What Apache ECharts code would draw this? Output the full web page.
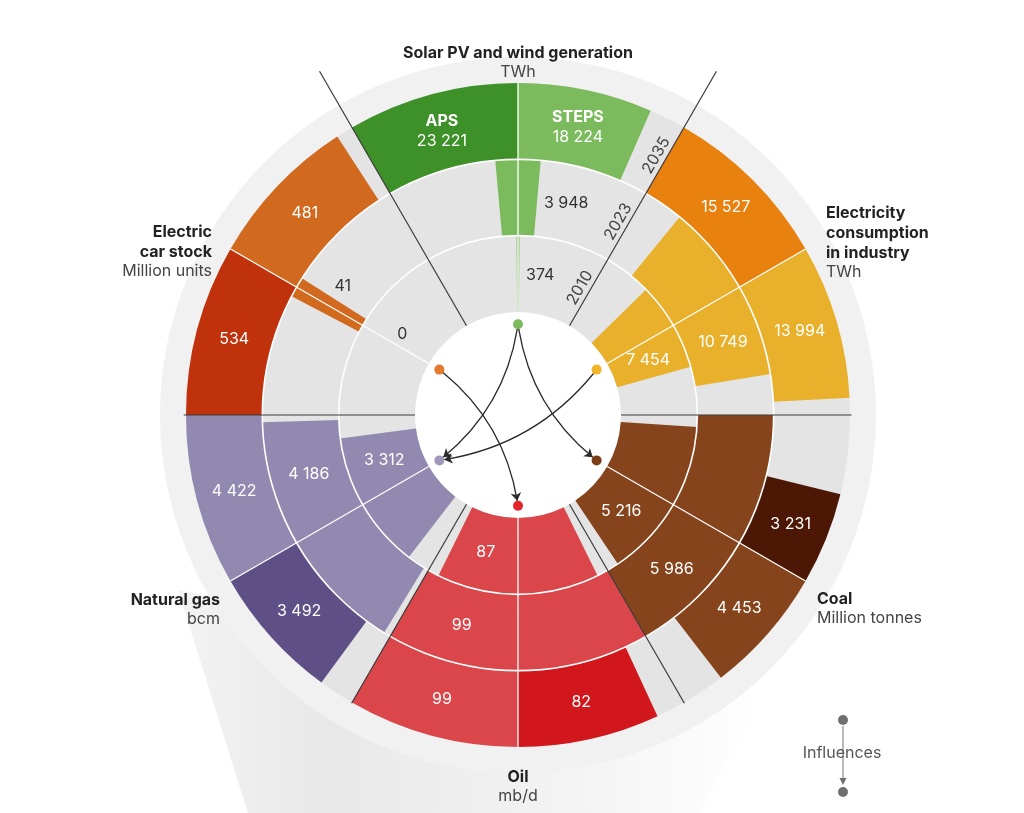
<!DOCTYPE html>
<html>
<head>
<meta charset="utf-8">
<title>Energy indicators 2010-2035</title>
<script src="https://cdn.jsdelivr.net/npm/echarts@6.0.0/dist/echarts.min.js"></script>
<style>
html,body{margin:0;padding:0;background:#ffffff;}
#chart{width:1024px;height:813px;}
</style>
</head>
<body>
<div id="chart"></div>
<script>
// ---------------- data ----------------
const categories = ['Solar PV and wind generation', 'Electricity consumption in industry', 'Coal', 'Oil', 'Natural gas', 'Electric car stock'];
const titleLines = [['Solar PV and wind generation'], ['Electricity', 'consumption', 'in industry'], ['Coal'], ['Oil'], ['Natural gas'], ['Electric', 'car stock']];
const units = ['TWh', 'TWh', 'Million tonnes', 'mb/d', 'bcm', 'Million units'];
const years = ['2010', '2023', '2035'];
const scenarios = ['STEPS', 'APS'];
const values2010 = [374, 7454, 5216, 87, 3312, 0];
const values2023 = [3948, 10749, 5986, 99, 4186, 41];
const valuesSTEPS = [18224, 13994, 4453, 99, 4422, 481];
const valuesAPS = [23221, 15527, 3231, 82, 3492, 534];
const influenceFrom = [0, 0, 5, 1];
const influenceTo = [4, 2, 3, 4];
const legendText = 'Influences';

// ---------------- styles / layout ----------------
const CX = 518, CY = 415, R_IN = 103, R_OUT = 332;
const FONT = 'Inter, "Noto Sans", "DejaVu Sans", sans-serif';
const FS = '16px ';
const mainColors = ['#7cbb5d', '#e8b02b', '#86441d', '#da464a', '#9289b1', '#d1691f'];
const apsColors  = ['#3e9128', '#e8810d', '#4c1805', '#d1171c', '#5e4f86', '#c0320b'];
const dotColors  = ['#7cbb5d', '#f1b52b', '#7b3c16', '#e3262b', '#a197bd', '#e47a2d'];
const curveness = [0.2, -0.2, 0.2, 0.2];
const titleLayout = [
  {x: 518, y: 53, align: 'center'},
  {x: 826, y: 213, align: 'left'},
  {x: 817, y: 599, align: 'left'},
  {x: 518, y: 777, align: 'center'},
  {x: 220, y: 600, align: 'right'},
  {x: 212, y: 232, align: 'right'}
];
const LINE_H = 20;
const DOT_R = -0.16;           // radius-axis units (inside the inner hole)
const HALF_SPAN = 30;          // degrees: half of one sector
const MIN_ARC = 25;            // px: narrower bars get their label outside

function fmt(v) { return String(v).replace(/\B(?=(\d{3})+(?!\d))/g, ' '); }
const measureCtx = document.createElement('canvas').getContext('2d');
function textW(t, font) { measureCtx.font = font; return measureCtx.measureText(t).width; }

const centerAngle = i => (((90 - 60 * i) % 360) + 360) % 360;
const sectorMax = categories.map((_, i) => Math.max(values2010[i], values2023[i], valuesSTEPS[i], valuesAPS[i]));
const halfDeg = (i, v) => v / sectorMax[i] * HALF_SPAN;

// bars: [rInner, rOuter, angleStart, angleEnd]
const barData = [];
const labelData = [];
const labelMeta = [];
categories.forEach((_, i) => {
  const c = centerAngle(i);
  [values2010, values2023].forEach((arr, ring) => {
    const d = halfDeg(i, arr[i]);
    if (arr[i] > 0) barData.push({value: [ring, ring + 1, c - d, c + d], itemStyle: {color: mainColors[i]}});
    labelData.push([ring + 0.5, c, -d]);
    labelMeta.push({text: fmt(arr[i]), small: true});
  });
  const ds = halfDeg(i, valuesSTEPS[i]);
  const da = halfDeg(i, valuesAPS[i]);
  barData.push({value: [2, 3, c - ds, c], itemStyle: {color: mainColors[i]}});
  barData.push({value: [2, 3, c, c + da], itemStyle: {color: apsColors[i]}});
  labelData.push([2.5, c, -ds]);
  labelMeta.push({text: fmt(valuesSTEPS[i]), heading: i === 0 ? scenarios[0] : null});
  labelData.push([2.5, c, da]);
  labelMeta.push({text: fmt(valuesAPS[i]), heading: i === 0 ? scenarios[1] : null});
});

function ctr(params) { return [params.coordSys.cx, params.coordSys.cy]; }
function px(params, api, rv, av) {
  const p = api.coord([rv, av]);
  const c = ctr(params);
  return {p: p, r: Math.hypot(p[0] - c[0], p[1] - c[1]), ang: Math.atan2(p[1] - c[1], p[0] - c[0])};
}

const boundaries = [0, 60, 120, 180, 240, 300];
const boundaryExt = [3.02, 3.85, 3.85, 3.03, 3.01, 3.01];

const option = {
  animation: false,
  backgroundColor: '#ffffff',
  polar: {center: [CX, CY], radius: [R_IN, R_OUT]},
  angleAxis: {type: 'value', min: 0, max: 360, startAngle: 0, clockwise: false, show: false},
  radiusAxis: {type: 'value', min: 0, max: 3, show: false},
  graphic: {
    elements: [
      {type: 'polygon', z: 0, silent: true,
        shape: {points: [[178, 590], [248, 813], [700, 813], [760, 700]]},
        style: {fill: {type: 'linear', x: 0, y: 0, x2: 1, y2: 0, colorStops: [
          {offset: 0, color: '#f3f3f3'}, {offset: 0.25, color: '#e8e8e8'}, {offset: 0.7, color: '#f4f4f4'}, {offset: 1, color: '#ffffff'}]}}},
      {type: 'circle', z: 0, silent: true, shape: {cx: CX, cy: CY, r: 358}, style: {fill: '#f1f1f1'}},
      {type: 'circle', z: 0, silent: true, shape: {cx: CX, cy: CY, r: R_IN}, style: {fill: '#ffffff'}}
    ].concat(
      titleLines.flatMap((lines, i) => {
        const L = titleLayout[i];
        const els = lines.map((t, k) => ({type: 'text', z: 10, x: L.x, y: L.y + k * LINE_H,
          style: {text: t, fill: '#222222', font: 'bold ' + FS + FONT, align: L.align, verticalAlign: 'middle'}}));
        els.push({type: 'text', z: 10, x: L.x, y: L.y + lines.length * LINE_H - 1,
          style: {text: units[i], fill: '#444444', font: FS + FONT, align: L.align, verticalAlign: 'middle'}});
        return els;
      }),
      [
        {type: 'line', z: 10, shape: {x1: 843, y1: 726, x2: 843, y2: 781}, style: {stroke: '#8a8a8a', lineWidth: 1.2}},
        {type: 'polygon', z: 10, shape: {points: [[839.5, 778], [846.5, 778], [843, 785]]}, style: {fill: '#6f6f6f'}},
        {type: 'circle', z: 10, shape: {cx: 843, cy: 720, r: 5}, style: {fill: '#6f6f6f'}},
        {type: 'circle', z: 10, shape: {cx: 843, cy: 792, r: 5}, style: {fill: '#6f6f6f'}},
        {type: 'text', z: 11, x: 842, y: 753, style: {text: legendText, fill: '#555555', font: FS + FONT, align: 'center', verticalAlign: 'middle'}}
      ]
    )
  },
  series: [
    { // gray rings
      type: 'custom', coordinateSystem: 'polar', z: 2, silent: true, clip: false,
      data: [[0, 3, 0, 360]], encode: {radius: [0, 1], angle: [2, 3]},
      renderItem(params, api) {
        const c = ctr(params);
        const a = px(params, api, api.value(0), 0), b = px(params, api, api.value(1), 0);
        return {type: 'sector', shape: {cx: c[0], cy: c[1], r0: a.r, r: b.r, startAngle: 0, endAngle: Math.PI * 2}, style: {fill: '#e4e4e4'}};
      }
    },
    { // bars
      type: 'custom', coordinateSystem: 'polar', z: 3, silent: true, clip: false,
      data: barData, encode: {radius: [0, 1], angle: [2, 3]},
      renderItem(params, api) {
        const c = ctr(params);
        const inner = px(params, api, api.value(0), api.value(2));
        const oa = px(params, api, api.value(1), api.value(2));
        const ob = px(params, api, api.value(1), api.value(3));
        let sa = ob.ang, ea = oa.ang;
        while (ea <= sa) ea += Math.PI * 2;
        return {type: 'sector', shape: {cx: c[0], cy: c[1], r0: inner.r, r: oa.r, startAngle: sa, endAngle: ea, clockwise: true},
          style: {fill: api.visual('color')}};
      }
    },
    { // white ring separators
      type: 'custom', coordinateSystem: 'polar', z: 4, silent: true, clip: false,
      data: [[1, 0], [2, 0]], encode: {radius: 0, angle: 1},
      renderItem(params, api) {
        const c = ctr(params);
        const a = px(params, api, api.value(0), api.value(1));
        return {type: 'circle', shape: {cx: c[0], cy: c[1], r: a.r}, style: {fill: 'none', stroke: '#ffffff', lineWidth: 1.6}};
      }
    },
    { // white sector centre lines
      type: 'custom', coordinateSystem: 'polar', z: 4, silent: true, clip: false,
      data: categories.map((_, i) => [0, 3, centerAngle(i)]), encode: {radius: [0, 1], angle: 2},
      renderItem(params, api) {
        const a = api.coord([api.value(0), api.value(2)]), b = api.coord([api.value(1), api.value(2)]);
        return {type: 'line', shape: {x1: a[0], y1: a[1], x2: b[0], y2: b[1]}, style: {stroke: '#ffffff', lineWidth: 1.3}};
      }
    },
    { // dark sector dividers
      type: 'custom', coordinateSystem: 'polar', z: 5, silent: true, clip: false,
      data: boundaries.map((a, k) => [0, boundaryExt[k], a]), encode: {radius: [0, 1], angle: 2},
      renderItem(params, api) {
        const a = api.coord([api.value(0), api.value(2)]), b = api.coord([api.value(1), api.value(2)]);
        return {type: 'line', shape: {x1: a[0], y1: a[1], x2: b[0], y2: b[1]}, style: {stroke: '#3a3a3a', lineWidth: 1.2}};
      }
    },
    { // value labels
      type: 'custom', coordinateSystem: 'polar', z: 6, silent: true, clip: false,
      data: labelData, encode: {radius: 0, angle: 1},
      renderItem(params, api) {
        const m = labelMeta[params.dataIndex];
        const rv = api.value(0), c = api.value(1), sd = api.value(2);
        const mid = px(params, api, rv, c);
        const font = FS + FONT;
        const tw = textW(m.text, font);
        const arcLen = Math.abs(sd) * Math.PI / 180 * mid.r;
        let pos, fill = '#ffffff';
        if (m.small && arcLen < MIN_ARC) {
          const off = (tw / 2 + 7) / mid.r * 180 / Math.PI;
          pos = api.coord([rv, c + sd + Math.sign(sd || -1) * off]);
          fill = '#333333';
        } else {
          pos = api.coord([rv, c + sd / 2]);
        }
        if (m.heading) {
          return {type: 'group', children: [
            {type: 'text', x: pos[0], y: pos[1] - 10, style: {text: m.heading, fill: fill, font: 'bold ' + font, align: 'center', verticalAlign: 'middle'}},
            {type: 'text', x: pos[0], y: pos[1] + 10, style: {text: m.text, fill: fill, font: font, align: 'center', verticalAlign: 'middle'}}
          ]};
        }
        return {type: 'text', x: pos[0], y: pos[1], style: {text: m.text, fill: fill, font: font, align: 'center', verticalAlign: 'middle'}};
      }
    },
    { // year labels along the 60° divider
      type: 'custom', coordinateSystem: 'polar', z: 6, silent: true, clip: false,
      data: years.map((y, k) => [k + 0.5, boundaries[1]]), encode: {radius: 0, angle: 1},
      renderItem(params, api) {
        const c = ctr(params);
        const p = api.coord([api.value(0), api.value(1)]);
        const ang = Math.atan2(-(p[1] - c[1]), p[0] - c[0]);
        const x = p[0] - Math.sin(ang) * 10, y = p[1] - Math.cos(ang) * 10;
        return {type: 'text', x: x, y: y, rotation: ang,
          style: {text: years[params.dataIndex], fill: '#444444', font: FS + FONT, align: 'center', verticalAlign: 'middle'}};
      }
    },
    { // influence arrows
      type: 'graph', coordinateSystem: 'polar', polarIndex: 0, layout: 'none', z: 8, silent: true,
      symbol: 'circle', symbolSize: 10,
      edgeSymbol: ['circle', 'arrow'], edgeSymbolSize: [1, 8],
      label: {show: false},
      emphasis: {disabled: true},
      lineStyle: {color: '#2a2a2a', width: 1.3, opacity: 1},
      data: categories.map((name, i) => ({name: name, value: [DOT_R, centerAngle(i)], itemStyle: {color: dotColors[i]}})),
      links: influenceFrom.map((f, k) => ({source: f, target: influenceTo[k], lineStyle: {curveness: curveness[k]}}))
    }
  ]
};

const chart = echarts.init(document.getElementById('chart'), null, {renderer: 'canvas'});
chart.setOption(option);
</script>
</body>
</html>
